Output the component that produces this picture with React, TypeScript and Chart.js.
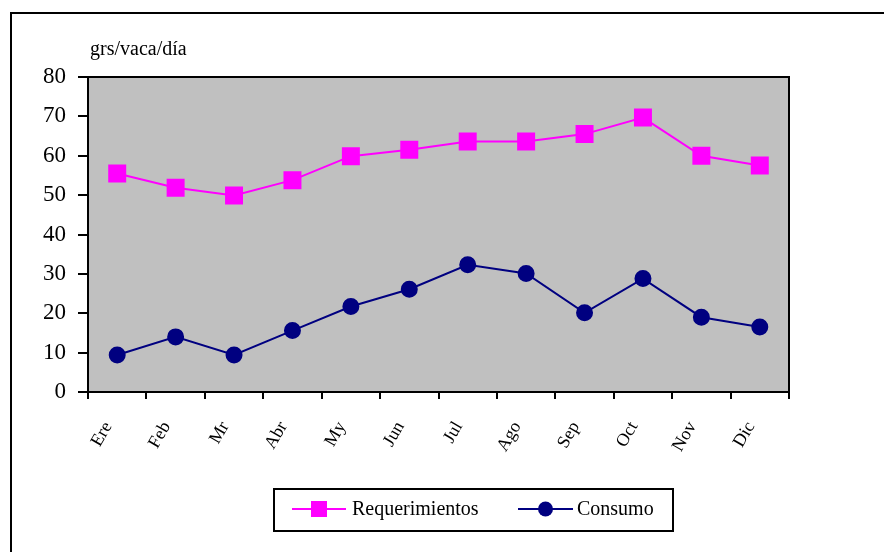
import React, { useEffect, useRef } from "react";
import { Chart, registerables } from "chart.js";

Chart.register(...registerables);

const months = ["Ere", "Feb", "Mr", "Abr", "My", "Jun", "Jul", "Ago", "Sep", "Oct", "Nov", "Dic"];
const requerimientos = [55.5, 51.9, 49.9, 53.8, 59.9, 61.5, 63.6, 63.6, 65.5, 69.7, 60.0, 57.5];
const consumo = [9.4, 14.0, 9.4, 15.6, 21.7, 26.1, 32.3, 30.1, 20.1, 28.8, 19.0, 16.5];
const yTitle = "grs/vaca/día";

const SERIF = "'Liberation Serif', 'DejaVu Serif', serif";

const framePlugin = {
  id: "frame",
  beforeDraw(chart: any) {
    const { ctx, chartArea: a } = chart;
    ctx.save();
    ctx.fillStyle = "#ffffff";
    ctx.fillRect(0, 0, chart.width, chart.height);
    ctx.strokeStyle = "#000000";
    ctx.lineWidth = 2;
    ctx.strokeRect(11, 13, 900, 600);
    ctx.fillStyle = "#C0C0C0";
    ctx.fillRect(a.left, a.top, a.right - a.left, a.bottom - a.top);
    ctx.restore();
  },
  afterDraw(chart: any) {
    const { ctx, chartArea: a } = chart;
    ctx.save();
    ctx.strokeStyle = "#000000";
    ctx.lineWidth = 2;
    ctx.strokeRect(a.left, a.top, a.right - a.left, a.bottom - a.top);
    // y title
    ctx.fillStyle = "#000";
    ctx.font = `20px ${SERIF}`;
    ctx.textAlign = "left";
    ctx.textBaseline = "alphabetic";
    ctx.fillText(yTitle, 90, 55);
    // legend
    const lx = 274, ly = 489, lw = 399, lh = 42;
    ctx.lineWidth = 2;
    ctx.strokeRect(lx, ly, lw, lh);
    const ds = chart.data.datasets;
    const items = [
      { x0: 292, x1: 346, tx: 352 },
      { x0: 518, x1: 573, tx: 577 },
    ];
    const cy = 509;
    ds.forEach((d: any, i: number) => {
      const it = items[i];
      ctx.strokeStyle = d.borderColor;
      ctx.lineWidth = 2;
      ctx.beginPath();
      ctx.moveTo(it.x0, cy);
      ctx.lineTo(it.x1, cy);
      ctx.stroke();
      ctx.fillStyle = d.pointBackgroundColor;
      const mx = (it.x0 + it.x1) / 2;
      if (d.pointStyle === "rect") {
        ctx.fillRect(mx - 8, cy - 8, 16, 16);
      } else {
        ctx.beginPath();
        ctx.arc(mx, cy, 7.5, 0, Math.PI * 2);
        ctx.fill();
      }
      ctx.fillStyle = "#000";
      ctx.font = `20px ${SERIF}`;
      ctx.textBaseline = "middle";
      ctx.fillText(d.label, it.tx, cy + 1);
    });
    ctx.restore();
  },
};

export default function App() {
  const ref = useRef<HTMLCanvasElement | null>(null);
  useEffect(() => {
    if (!ref.current) return;
    const chart = new Chart(ref.current, {
      type: "line",
      data: {
        labels: months,
        datasets: [
          {
            label: "Requerimientos",
            data: requerimientos,
            borderColor: "#FF00FF",
            backgroundColor: "#FF00FF",
            pointBackgroundColor: "#FF00FF",
            pointBorderColor: "#FF00FF",
            pointStyle: "rect",
            pointRadius: 11.3,
            borderWidth: 2,
            tension: 0,
          },
          {
            label: "Consumo",
            data: consumo,
            borderColor: "#000080",
            backgroundColor: "#000080",
            pointBackgroundColor: "#000080",
            pointBorderColor: "#000080",
            pointStyle: "circle",
            pointRadius: 7.5,
            borderWidth: 2,
            tension: 0,
          },
        ],
      },
      options: {
        responsive: false,
        animation: false,
        layout: { padding: { left: 0, top: 77, right: 95, bottom: 0 } },
        plugins: { legend: { display: false }, tooltip: { enabled: false }, title: { display: false } },
        scales: {
          x: {
            offset: true,
            grid: { display: true, drawOnChartArea: false, drawTicks: true, tickLength: 7, offset: true, color: "#000", lineWidth: 2 },
            border: { display: true, color: "#000", width: 2 },
            ticks: { color: "#000", font: { family: SERIF, size: 18 }, minRotation: 60, maxRotation: 60, padding: 19, labelOffset: -9, autoSkip: false },
            afterFit(scale: any) { scale.height = 160; },
          },
          y: {
            min: 0,
            max: 80,
            grid: { display: true, drawOnChartArea: false, drawTicks: true, tickLength: 10, color: "#000", lineWidth: 2 },
            border: { display: true, color: "#000", width: 2 },
            ticks: { stepSize: 10, color: "#000", font: { family: SERIF, size: 23 }, padding: 12 },
            afterFit(scale: any) { scale.width = 88; },
          },
        },
      },
      plugins: [framePlugin],
    });
    return () => chart.destroy();
  }, []);
  return (
    <div style={{ position: "fixed", left: 0, top: 0, width: 884, height: 552 }}>
      <canvas ref={ref} width={884} height={552} style={{ width: 884, height: 552 }} />
    </div>
  );
}
